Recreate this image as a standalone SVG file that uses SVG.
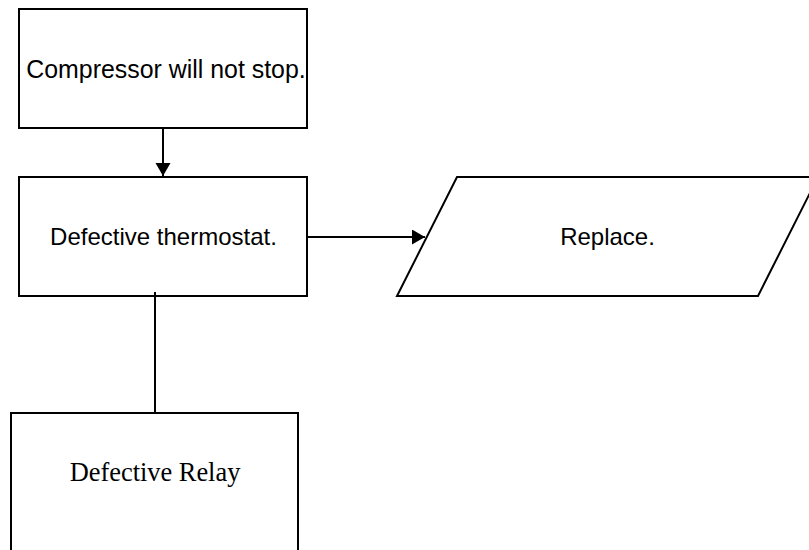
<svg xmlns="http://www.w3.org/2000/svg" width="809" height="550" viewBox="0 0 809 550">
<style>
.box{fill:#fff;stroke:#000;stroke-width:2}
.sans{font-family:"Liberation Sans",Arial,sans-serif;font-size:24px;fill:#000;text-anchor:middle}
.serif{font-family:"Liberation Serif","Times New Roman",serif;font-size:26.4px;fill:#000;text-anchor:middle}
.conn{stroke:#000;stroke-width:2;fill:none}
</style>
<defs>
<marker id="arr" markerUnits="userSpaceOnUse" markerWidth="14" markerHeight="16" refX="13" refY="7.5" orient="auto">
<path d="M0,0 L13,7.5 L0,15 Z" fill="#000"/>
</marker>
</defs>
<rect width="809" height="550" fill="#fff"/>
<g id="n1">
<rect class="box" x="19" y="9" width="288" height="119"/>
<text class="sans" x="166" y="78" style="font-size:24.9px">Compressor will not stop.</text>
</g>
<g id="n2">
<rect class="box" x="19" y="177" width="288" height="119"/>
<text class="sans" x="163.5" y="245">Defective thermostat.</text>
</g>
<g id="n3">
<polygon class="box" points="457,177 818,177 758,296 397,296"/>
<text class="sans" x="607.5" y="245">Replace.</text>
</g>
<g id="n4">
<rect class="box" x="11" y="413" width="287" height="145"/>
<text class="serif" x="155" y="480.5">Defective Relay</text>
</g>
<g id="connectors">
<line class="conn" x1="163" y1="128" x2="163" y2="176" marker-end="url(#arr)"/>
<line class="conn" x1="307" y1="237" x2="425" y2="237" marker-end="url(#arr)"/>
<line class="conn" x1="155" y1="292" x2="155" y2="413"/>
</g>
</svg>
